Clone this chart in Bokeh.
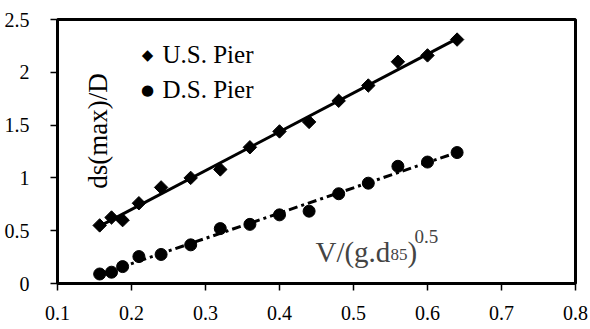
import numpy as np
from bokeh.plotting import figure
from bokeh.models import Range1d, FixedTicker, Label
from bokeh.embed import file_html
from bokeh.resources import INLINE

# ---- data ----
x_vals = [0.157, 0.173, 0.188, 0.21, 0.24, 0.28, 0.32, 0.36, 0.40, 0.44, 0.48, 0.52, 0.56, 0.60, 0.64]
us_vals = [0.55, 0.625, 0.60, 0.76, 0.91, 1.00, 1.08, 1.29, 1.44, 1.53, 1.73, 1.875, 2.10, 2.16, 2.31]
ds_vals = [0.09, 0.107, 0.16, 0.255, 0.275, 0.366, 0.52, 0.56, 0.65, 0.685, 0.85, 0.95, 1.11, 1.15, 1.24]
series_names = ["U.S. Pier", "D.S. Pier"]
legend_symbols = ["\u25C6", "\u25CF"]
x_ticks = [0.1, 0.2, 0.3, 0.4, 0.5, 0.6, 0.7, 0.8]
x_tick_labels = ["0.1", "0.2", "0.3", "0.4", "0.5", "0.6", "0.7", "0.8"]
y_ticks = [0, 0.5, 1, 1.5, 2, 2.5]
y_tick_labels = ["0", "0.5", "1", "1.5", "2", "2.5"]
y_label = "ds(max)/D"
x_label_parts = ["V/(g.d", "85", ")", "0.5"]

FONT = "Liberation Serif"

p = figure(width=590, height=329, output_backend="svg", toolbar_location=None,
           x_range=Range1d(0.1, 0.8), y_range=Range1d(0, 2.5),
           min_border_left=57, min_border_right=15, min_border_top=19, min_border_bottom=46,
           background_fill_color="white", border_fill_color="white")
p.xgrid.visible = False
p.ygrid.visible = False
p.outline_line_color = "black"
p.outline_line_width = 3
p.outline_line_alpha = 1

for ax in (p.xaxis[0], p.yaxis[0]):
    ax.axis_line_width = 3
    ax.axis_line_color = "black"
    ax.major_tick_line_width = 1.5
    ax.major_tick_line_color = "black"
    ax.major_tick_in = 0
    ax.major_tick_out = 7
    ax.minor_tick_in = 0
    ax.minor_tick_out = 0
    ax.major_label_text_font = FONT
    ax.major_label_text_font_size = "20px"
    ax.major_label_text_color = "black"

p.xaxis.ticker = FixedTicker(ticks=x_ticks)
p.yaxis.ticker = FixedTicker(ticks=y_ticks)
p.xaxis.major_label_overrides = dict(zip(x_ticks, x_tick_labels))
p.yaxis.major_label_overrides = dict(zip(y_ticks, y_tick_labels))
p.xaxis.major_label_standoff = 15
p.yaxis.major_label_standoff = 21

# trend lines (least squares fits of the series)
xs_fit = [min(x_vals), max(x_vals)]
c_us = np.polyfit(x_vals, us_vals, 1)
c_ds = np.polyfit(x_vals, ds_vals, 1)
p.line(xs_fit, list(np.polyval(c_us, xs_fit)), line_width=3, line_color="black")
p.line(xs_fit, list(np.polyval(c_ds, xs_fit)), line_width=3, line_color="black",
       line_dash="9 4 3 4")

p.scatter(x_vals, us_vals, marker="square", size=9.5, angle=np.pi / 4,
          fill_color="black", line_color="black")
p.scatter(x_vals, ds_vals, marker="circle", size=12,
          fill_color="black", line_color="black")

# legend (symbol + label as text)
leg_sym_x, leg_txt_x = 0.2216, 0.2419
leg_rows_y = [2.168, 1.837]
for sym, name, ly in zip(legend_symbols, series_names, leg_rows_y):
    p.add_layout(Label(x=leg_sym_x, y=ly, text=sym, text_align="center",
                       text_baseline="alphabetic", text_font="DejaVu Sans",
                       text_font_size="15px", text_color="black"))
    p.add_layout(Label(x=leg_txt_x, y=ly, text=name, text_align="left",
                       text_baseline="alphabetic", text_font=FONT,
                       text_font_size="25px", text_color="black"))

p.add_layout(Label(x=0.1554, y=1.444, text=y_label, angle=np.pi / 2,
                   text_align="center", text_baseline="alphabetic",
                   text_font=FONT, text_font_size="27px", text_color="black"))

ax0, ay0 = 0.4486, 0.303
p.add_layout(Label(x=ax0, y=ay0, text=x_label_parts[0], text_font=FONT,
                   text_font_size="29px", text_baseline="alphabetic"))
p.add_layout(Label(x=ax0, y=ay0, text=x_label_parts[1], x_offset=75, y_offset=-3,
                   text_font=FONT, text_font_size="17px", text_baseline="alphabetic"))
p.add_layout(Label(x=ax0, y=ay0, text=x_label_parts[2], x_offset=92, text_font=FONT,
                   text_font_size="29px", text_baseline="alphabetic"))
p.add_layout(Label(x=ax0, y=ay0, text=x_label_parts[3], x_offset=99, y_offset=15,
                   text_font=FONT, text_font_size="19px", text_baseline="alphabetic"))

open("out.html", "w").write(file_html(p, INLINE))
